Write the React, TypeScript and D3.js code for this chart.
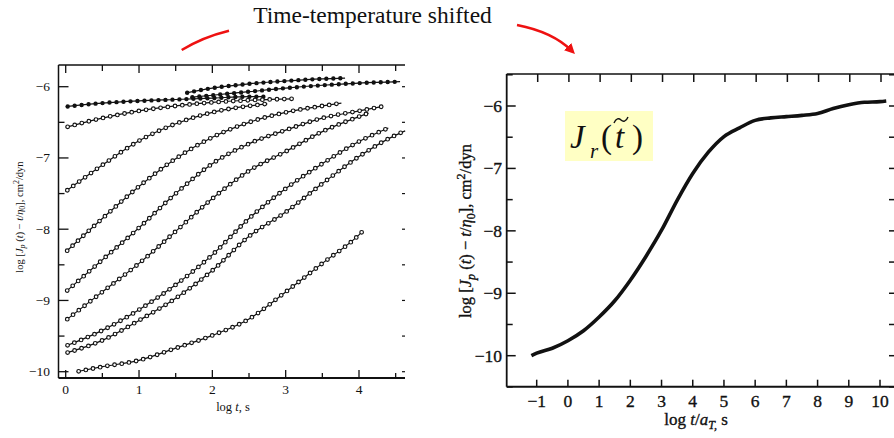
import React from "react";
import * as d3 from "d3";

// ---------- data ----------
const leftXTicks = [0, 1, 2, 3, 4];
const leftYTicks = [-6, -7, -8, -9, -10];
const rightXTicks = [-1, 0, 1, 2, 3, 4, 5, 6, 7, 8, 9, 10];
const rightYTicks = [-6, -7, -8, -9, -10];

// individual creep curves, left panel: [log t, log J]
const curveT1: [number, number][] = [[1.63, -6.09], [2, -6.02], [2.5, -5.96], [3, -5.92], [3.5, -5.89], [3.81, -5.88]];
const curveT2: [number, number][] = [[1.7, -6.15], [2, -6.12], [2.5, -6.07], [3, -6.02], [3.5, -5.98], [4, -5.95], [4.56, -5.93]];
const curve1: [number, number][] = [[0, -6.28], [0.5, -6.23], [1, -6.2], [1.5, -6.18], [2, -6.16], [2.5, -6.14], [2.7, -6.14]];
const curve2: [number, number][] = [[0, -6.57], [0.5, -6.44], [1, -6.34], [1.5, -6.27], [2, -6.22], [2.5, -6.19], [3.1, -6.17]];
const curve3: [number, number][] = [[0, -7.47], [0.5, -7.1], [1, -6.76], [1.5, -6.52], [2, -6.36], [2.5, -6.27], [2.75, -6.24]];
const curve4: [number, number][] = [[0, -8.32], [0.5, -7.85], [1, -7.4], [1.5, -7.01], [2, -6.71], [2.5, -6.5], [3, -6.36], [3.5, -6.27], [3.76, -6.23]];
const curve5: [number, number][] = [[0, -8.88], [0.5, -8.43], [1, -7.98], [1.5, -7.5], [2, -7.08], [2.5, -6.8], [3, -6.61], [3.5, -6.44], [4, -6.34], [4.31, -6.28]];
const curve6: [number, number][] = [[0, -9.28], [0.5, -8.88], [1, -8.48], [1.5, -8.03], [2, -7.57], [2.5, -7.18], [3, -6.91], [3.5, -6.63], [4, -6.42], [4.13, -6.37]];
const curve7: [number, number][] = [[0, -9.64], [0.5, -9.42], [1, -9.13], [1.5, -8.78], [2, -8.36], [2.5, -7.85], [3, -7.43], [3.5, -7.08], [4, -6.77], [4.4, -6.58]];
const curve8: [number, number][] = [[0, -9.74], [0.5, -9.56], [1, -9.28], [1.5, -8.97], [2, -8.58], [2.5, -8.1], [3, -7.76], [3.5, -7.36], [4, -6.98], [4.5, -6.68], [4.63, -6.62]];
const curve9: [number, number][] = [[0.15, -10.0], [0.5, -9.93], [1, -9.84], [1.5, -9.67], [2, -9.49], [2.5, -9.26], [3, -8.88], [3.5, -8.48], [4, -8.08], [4.04, -8.04]];

const filledCurves = [curveT1, curveT2, curve1];
const openCurves = [curve2, curve3, curve4, curve5, curve6, curve7, curve8, curve9];

// master curve, right panel: [log t/aT, log J]
const masterX = [-1.17, -1, -0.5, 0, 0.5, 1, 1.5, 2, 2.5, 3, 3.5, 4, 4.5, 5, 5.5, 6, 6.5, 7, 7.5, 8, 8.5, 9, 9.5, 10, 10.2];
const masterY = [-10.0, -9.96, -9.88, -9.76, -9.6, -9.38, -9.12, -8.79, -8.41, -7.99, -7.51, -7.08, -6.74, -6.49, -6.35, -6.23, -6.19, -6.17, -6.15, -6.12, -6.04, -5.98, -5.94, -5.93, -5.92];

const SERIF = "'Liberation Serif', 'DejaVu Serif', serif";

export default function App() {
  // ---------- left panel scales ----------
  const xL = d3.scaleLinear().domain([0, 4]).range([65.7, 359]);
  const yL = d3.scaleLinear().domain([-6, -10]).range([86.7, 371.7]);
  const L = { left: 58.5, right: 405, top: 65, bottom: 378 };
  const lineL = d3
    .line<[number, number]>()
    .x((d) => xL(d[0]))
    .y((d) => yL(d[1]))
    .curve(d3.curveMonotoneX);

  // ---------- right panel scales ----------
  const xR = d3.scaleLinear().domain([-1, 10]).range([536.7, 880]);
  const yR = d3.scaleLinear().domain([-6, -10]).range([106, 355.7]);
  const R = { left: 506.7, right: 894, top: 74, bottom: 386.7 };
  const master: [number, number][] = masterX.map((x, i) => [x, masterY[i]]);
  const lineR = d3
    .line<[number, number]>()
    .x((d) => xR(d[0]))
    .y((d) => yR(d[1]))
    .curve(d3.curveMonotoneX);

  const leftHalfX = d3.range(0, 4.51, 0.5);
  const leftHalfY = d3.range(-6, -10.01, -0.5);
  const rightHalfY = d3.range(-5.5, -10.51, -0.5);

  const heavy = { stroke: "#111", strokeWidth: 0.35 };

  return (
    <svg
      width={894}
      height={438}
      style={{ position: "absolute", left: 0, top: 0, background: "#fff" }}
      fontFamily={SERIF}
    >
      <defs>
        <marker id="arrowRed" viewBox="0 0 10 10" refX="6" refY="5" markerWidth="4" markerHeight="4" orient="auto">
          <path d="M0,0 L10,5 L0,10 z" fill="#ee1111" />
        </marker>
      </defs>
      <rect x={0} y={0} width={894} height={438} fill="#fff" />

      {/* title and arrows */}
      <text x={372.5} y={23} fontSize={23.5} textAnchor="middle" fill="#111">
        Time-temperature shifted
      </text>
      <path d="M181.7,50 Q203,37 229,30.7" fill="none" stroke="#ee1111" strokeWidth={2.6} />
      <path d="M517,25 Q553,32 572,51" fill="none" stroke="#ee1111" strokeWidth={2.6} markerEnd="url(#arrowRed)" />

      {/* ---------------- LEFT PANEL ---------------- */}
      <g stroke="#111" fill="none">
        <line x1={L.left} y1={L.top} x2={L.right} y2={L.top} strokeWidth={1.5} />
        <line x1={L.left} y1={L.top} x2={L.left} y2={L.bottom} strokeWidth={1.5} />
        <line x1={L.left} y1={L.bottom} x2={L.right} y2={L.bottom} strokeWidth={1.8} />
        {leftHalfX.map((v) => {
          const major = Math.abs(v - Math.round(v)) < 1e-6;
          return (
            <g key={"lx" + v}>
              <line x1={xL(v)} x2={xL(v)} y1={L.bottom} y2={L.bottom - (major ? 8 : 5)} strokeWidth={1.3} />
              <line x1={xL(v)} x2={xL(v)} y1={L.top} y2={L.top + (major ? 8 : 6)} strokeWidth={1.3} />
            </g>
          );
        })}
        {leftHalfY.map((v) => {
          const major = Math.abs(v - Math.round(v)) < 1e-6;
          return (
            <g key={"ly" + v}>
              <line x1={L.left} x2={L.left + (major ? 10 : 6)} y1={yL(v)} y2={yL(v)} strokeWidth={1.3} />
              <line x1={L.right - 3} x2={L.right} y1={yL(v)} y2={yL(v)} strokeWidth={1.2} />
            </g>
          );
        })}
      </g>
      {leftXTicks.map((v) => (
        <text key={"lxt" + v} x={xL(v)} y={394} fontSize={13.5} textAnchor="middle" fill="#111">
          {v}
        </text>
      ))}
      {leftYTicks.map((v) => (
        <text key={"lyt" + v} x={50} y={yL(v) + 4.5} fontSize={13.5} textAnchor="end" fill="#111">
          {"\u2212" + Math.abs(v)}
        </text>
      ))}
      <text x={233} y={411} fontSize={12.5} textAnchor="middle" fill="#111">
        log <tspan fontStyle="italic">t</tspan>, s
      </text>
      <text transform="translate(22.5,217) rotate(-90)" fontSize={10.5} textAnchor="middle" fill="#111">
        log [<tspan fontStyle="italic">J</tspan>
        <tspan fontStyle="italic" fontSize={8} dy={2.5}>p</tspan>
        <tspan dy={-2.5}> (</tspan>
        <tspan fontStyle="italic">t</tspan>) − <tspan fontStyle="italic">t</tspan>/<tspan fontStyle="italic">η</tspan>
        <tspan fontSize={8} dy={2.5}>0</tspan>
        <tspan dy={-2.5}>], cm</tspan>
        <tspan fontSize={8} dy={-3.5}>2</tspan>
        <tspan dy={3.5}>/dyn</tspan>
      </text>

      {/* curves */}
      <g fill="none">
        {[...filledCurves, ...openCurves].map((c, i) => (
          <path key={"ln" + i} d={lineL(c) || ""} stroke="#111" strokeWidth={1.2} />
        ))}
        {filledCurves.map((c, i) => (
          <path
            key={"fm" + i}
            d={lineL(c) || ""}
            stroke="#111"
            strokeWidth={4.4}
            strokeLinecap="round"
            strokeDasharray="0 7"
            strokeDashoffset={-2}
          />
        ))}
        {openCurves.map((c, i) => (
          <g key={"om" + i}>
            <path
              d={lineL(c) || ""}
              stroke="#111"
              strokeWidth={4.8}
              strokeLinecap="round"
              strokeDasharray="0 7.3"
              strokeDashoffset={-2}
            />
            <path
              d={lineL(c) || ""}
              stroke="#fff"
              strokeWidth={2.5}
              strokeLinecap="round"
              strokeDasharray="0 7.3"
              strokeDashoffset={-2}
            />
          </g>
        ))}
      </g>

      {/* ---------------- RIGHT PANEL ---------------- */}
      <g stroke="#111" fill="none">
        <line x1={R.left} y1={R.top} x2={R.right} y2={R.top} strokeWidth={1.6} />
        <line x1={R.left} y1={R.top} x2={R.left} y2={R.bottom} strokeWidth={1.8} />
        <line x1={R.left} y1={R.bottom} x2={R.right} y2={R.bottom} strokeWidth={2} />
        {rightXTicks.map((v) => (
          <g key={"rx" + v}>
            <line x1={xR(v)} x2={xR(v)} y1={R.bottom} y2={R.bottom - 7} strokeWidth={1.5} />
            <line x1={xR(v) + 1} x2={xR(v) + 1} y1={R.top} y2={R.top + 8} strokeWidth={1.5} />
          </g>
        ))}
        {rightHalfY.map((v) => {
          const major = Math.abs(v - Math.round(v)) < 1e-6;
          return (
            <g key={"ry" + v}>
              <line x1={R.left} x2={R.left + (major ? 9 : 6)} y1={yR(v)} y2={yR(v)} strokeWidth={1.5} />
              <line x1={R.right - 5} x2={R.right} y1={yR(v)} y2={yR(v)} strokeWidth={1.5} />
            </g>
          );
        })}
      </g>
      {rightXTicks.map((v) => (
        <text key={"rxt" + v} x={xR(v)} y={407} fontSize={17.5} textAnchor="middle" fill="#111" {...heavy}>
          {v < 0 ? "\u2212" + Math.abs(v) : String(v)}
        </text>
      ))}
      {rightYTicks.map((v) => (
        <text key={"ryt" + v} x={502} y={yR(v) + 6} fontSize={17.5} textAnchor="end" fill="#111" {...heavy}>
          {"\u2212" + Math.abs(v)}
        </text>
      ))}
      <text x={696} y={425} fontSize={17} textAnchor="middle" fill="#111" {...heavy}>
        log <tspan fontStyle="italic">t</tspan>/<tspan fontStyle="italic">a</tspan>
        <tspan fontStyle="italic" fontSize={12} dy={4}>T,</tspan>
        <tspan dy={-4}> s</tspan>
      </text>
      <text transform="translate(471,231) rotate(-90)" fontSize={16.5} textAnchor="middle" fill="#111" {...heavy}>
        log [<tspan fontStyle="italic">J</tspan>
        <tspan fontStyle="italic" fontSize={12} dy={4}>p</tspan>
        <tspan dy={-4}> (</tspan>
        <tspan fontStyle="italic">t</tspan>) − <tspan fontStyle="italic">t</tspan>/<tspan fontStyle="italic">η</tspan>
        <tspan fontSize={12} dy={4}>0</tspan>
        <tspan dy={-4}>], cm</tspan>
        <tspan fontSize={12} dy={-6}>2</tspan>
        <tspan dy={6}>/dyn</tspan>
      </text>

      <path d={lineR(master) || ""} fill="none" stroke="#111" strokeWidth={3.6} strokeLinejoin="round" />

      {/* annotation */}
      <rect x={565} y={111} width={88} height={50} fill="#ffffc4" />
      <g fill="#111">
        <text x={570} y={148} fontSize={33} fontStyle="italic">J</text>
        <text x={590} y={158} fontSize={21} fontStyle="italic">r</text>
        <text x={601} y={148} fontSize={33}>(</text>
        <text x={615} y={148} fontSize={33} fontStyle="italic">t</text>
        <text x={632} y={148} fontSize={33}>)</text>
      </g>
      <path
        d="M614,123 C616,118 619,118 621,120 C623,122 626,122 628,117"
        fill="none"
        stroke="#111"
        strokeWidth={1.4}
      />
    </svg>
  );
}
